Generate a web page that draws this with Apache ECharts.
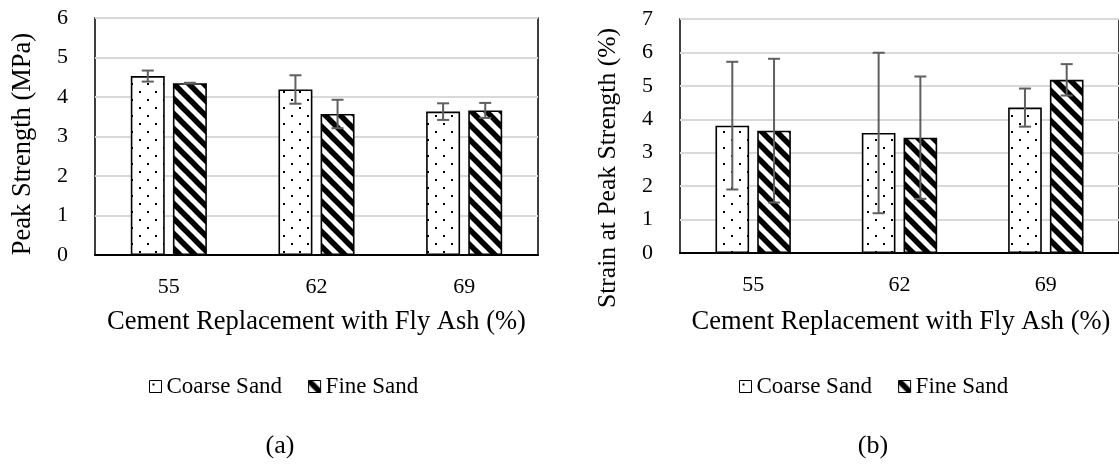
<!DOCTYPE html>
<html><head><meta charset="utf-8">
<script src="https://cdn.jsdelivr.net/npm/echarts@6/dist/echarts.min.js"></script>
<style>html,body{margin:0;padding:0;background:#fff}#c{width:1119px;height:464px}</style>
</head><body><div id="c"></div>
<script>
// ---- data ----
const categories = ['55', '62', '69'];
const seriesNames = ['Coarse Sand', 'Fine Sand'];
const strengthCoarse = [4.53, 4.19, 3.63];
const strengthCoarseErr = [0.14, 0.36, 0.21];
const strengthFine = [4.35, 3.57, 3.66];
const strengthFineErr = [0.01, 0.36, 0.19];
const strainCoarse = [3.81, 3.59, 4.35];
const strainCoarseErr = [1.91, 2.40, 0.57];
const strainFine = [3.66, 3.45, 5.18];
const strainFineErr = [2.15, 1.83, 0.47];
const strengthAxis = { min: 0, max: 6, interval: 1 };
const strainAxis = { min: 0, max: 7, interval: 1 };
const xTitle = 'Cement Replacement with Fly Ash (%)';
const yTitleA = 'Peak Strength (MPa)';
const yTitleB = 'Strain at Peak Strength (%)';
const panelLabels = ['(a)', '(b)'];

// ---- styling ----
const FONT = '"Liberation Serif", "Times New Roman", serif';
const BAR_W = 0.23, BAR_GAP = 0.24;
const ERR_COLOR = '#5f5f5f';

function dotPattern() {
  const c = document.createElement('canvas'); c.width = 16; c.height = 16;
  const g = c.getContext('2d');
  g.fillStyle = '#fff'; g.fillRect(0, 0, 16, 16);
  g.fillStyle = '#000'; g.fillRect(3, 3, 2, 2); g.fillRect(11, 11, 2, 2);
  return c;
}
function stripePattern() {
  const s = 15;
  const c = document.createElement('canvas'); c.width = s; c.height = s;
  const g = c.getContext('2d');
  g.fillStyle = '#fff'; g.fillRect(0, 0, s, s);
  g.strokeStyle = '#000'; g.lineWidth = 5.5;
  for (const k of [-s, 0, s]) {
    g.beginPath(); g.moveTo(-2, k - 2); g.lineTo(s + 2, s + k + 2); g.stroke();
  }
  return c;
}
const fills = [
  { image: dotPattern(), repeat: 'repeat' },
  { image: stripePattern(), repeat: 'repeat' }
];

const chart = echarts.init(document.getElementById('c'), null, { renderer: 'canvas' });

function barSeries(name, vals, idx, gi) {
  return {
    name: name, type: 'bar', xAxisIndex: gi, yAxisIndex: gi,
    data: vals, barWidth: (BAR_W * 100) + '%', barGap: (BAR_GAP * 100) + '%',
    itemStyle: { color: fills[idx], borderColor: '#000', borderWidth: 1.6 },
    emphasis: { disabled: true }, animation: false
  };
}
function errSeries(vals, errs, idx, gi) {
  return {
    type: 'custom', xAxisIndex: gi, yAxisIndex: gi, silent: true, z: 10, animation: false,
    data: vals.map((v, i) => [i, v - errs[i], v + errs[i]]),
    encode: { x: 0, y: [1, 2] },
    renderItem: function (params, api) {
      const i = api.value(0);
      const band = api.size([1, 0])[0];
      const bw = band * BAR_W, gap = bw * BAR_GAP;
      const off = (idx === 0 ? -1 : 1) * (bw + gap) / 2;
      const lo = api.coord([i, api.value(1)]);
      const hi = api.coord([i, api.value(2)]);
      const x = lo[0] + off, cap = 6;
      const st = { stroke: ERR_COLOR, lineWidth: 2 };
      return { type: 'group', children: [
        { type: 'line', shape: { x1: x, y1: lo[1], x2: x, y2: hi[1] }, style: st },
        { type: 'line', shape: { x1: x - cap, y1: hi[1], x2: x + cap, y2: hi[1] }, style: st },
        { type: 'line', shape: { x1: x - cap, y1: lo[1], x2: x + cap, y2: lo[1] }, style: st }
      ]};
    }
  };
}
function xAxisCfg(gi) {
  return {
    type: 'category', gridIndex: gi, data: categories,
    axisLine: { lineStyle: { color: '#000', width: 2 } },
    axisTick: { show: false },
    axisLabel: { color: '#000', fontFamily: FONT, fontSize: 22, margin: 21 }
  };
}
function yAxisCfg(gi, ax) {
  return {
    type: 'value', gridIndex: gi, min: ax.min, max: ax.max, interval: ax.interval,
    axisLine: { show: false }, axisTick: { show: false },
    splitLine: { lineStyle: { color: '#d9d9d9', width: 2 } },
    axisLabel: { color: '#000', fontFamily: FONT, fontSize: 22, margin: 27 }
  };
}
function txt(x, y, text, size, rot) {
  return {
    type: 'text', x: x, y: y, rotation: rot || 0, silent: true,
    style: { text: text, fill: '#000', font: size + 'px ' + FONT, textAlign: 'center', textVerticalAlign: 'middle' }
  };
}
function legendCfg(left) {
  return {
    left: left, top: 375, padding: 0, itemWidth: 12, itemHeight: 12, itemGap: 26, icon: 'rect',
    data: seriesNames, selectedMode: false,
    itemStyle: { borderColor: '#000', borderWidth: 1 },
    textStyle: { color: '#000', fontFamily: FONT, fontSize: 23 }
  };
}

chart.setOption({
  animation: false,
  backgroundColor: '#fff',
  grid: [
    { left: 95, top: 18, width: 443, height: 237, show: true, borderColor: '#000', borderWidth: 1.5 },
    { left: 680, top: 19, width: 442, height: 234, show: true, borderColor: '#000', borderWidth: 1.5 }
  ],
  xAxis: [xAxisCfg(0), xAxisCfg(1)],
  yAxis: [yAxisCfg(0, strengthAxis), yAxisCfg(1, strainAxis)],
  legend: [legendCfg(149), legendCfg(739)],
  series: [
    barSeries(seriesNames[0], strengthCoarse, 0, 0),
    barSeries(seriesNames[1], strengthFine, 1, 0),
    barSeries(seriesNames[0], strainCoarse, 0, 1),
    barSeries(seriesNames[1], strainFine, 1, 1),
    errSeries(strengthCoarse, strengthCoarseErr, 0, 0),
    errSeries(strengthFine, strengthFineErr, 1, 0),
    errSeries(strainCoarse, strainCoarseErr, 0, 1),
    errSeries(strainFine, strainFineErr, 1, 1)
  ],
  graphic: [
    txt(316.5, 322, xTitle, 26.5),
    txt(901, 322, xTitle, 26.5),
    txt(23, 144, yTitleA, 26.5, Math.PI / 2),
    txt(608, 168, yTitleB, 25.6, Math.PI / 2),
    txt(280, 446, panelLabels[0], 26),
    txt(873, 446, panelLabels[1], 26)
  ]
});
</script></body></html>
